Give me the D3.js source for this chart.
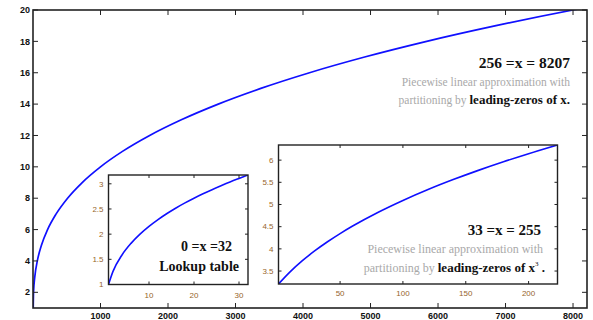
<!DOCTYPE html>
<html>
<head>
<meta charset="utf-8">
<script src="https://cdn.jsdelivr.net/npm/d3@7"></script>
<style>
  html, body { margin: 0; padding: 0; background: #fff; }
  svg { display: block; }
</style>
</head>
<body>
<svg id="chart" width="593" height="320"></svg>
<script>
// Cube-root curve over 0..8207 (main axes)
const mainX = [0, 8, 27, 64, 125, 216, 343, 512, 729, 1000, 1331, 1728, 2197, 2744, 3375, 4096, 4913, 5832, 6859, 8000, 8207];
const mainY = [0, 2, 3, 4, 5, 6, 7, 8, 9, 10, 11, 12, 13, 14, 15, 16, 17, 18, 19, 20, 20.17];
const mainXTicks = [1000, 2000, 3000, 4000, 5000, 6000, 7000, 8000];
const mainYTicks = [2, 4, 6, 8, 10, 12, 14, 16, 18, 20];

// Lookup-table range 0..32
const lookupX = [1, 2, 4, 6, 8, 10, 12, 14, 16, 18, 20, 22, 24, 26, 28, 30, 32];
const lookupY = [1, 1.26, 1.587, 1.817, 2, 2.154, 2.289, 2.41, 2.52, 2.621, 2.714, 2.802, 2.884, 2.962, 3.037, 3.107, 3.175];
const lookupXTicks = [10, 20, 30];
const lookupYTicks = [1, 1.5, 2, 2.5, 3];

// Piecewise range 33..255 (indexed from 1)
const pieceX = [1, 10, 20, 30, 40, 50, 60, 80, 100, 120, 140, 160, 180, 200, 223];
const pieceY = [3.208, 3.476, 3.733, 3.958, 4.16, 4.344, 4.514, 4.82, 5.091, 5.337, 5.561, 5.769, 5.963, 6.145, 6.341];
const pieceXTicks = [50, 100, 150, 200];
const pieceYTicks = [3.5, 4, 4.5, 5, 5.5, 6];

const svg = d3.select("#chart");
const SERIF = "'Liberation Serif', 'Times New Roman', serif";
const SANS = "'Liberation Sans', Arial, sans-serif";

function panel(id, box, xDom, yDom, xs, ys, xTicks, yTicks, opts) {
  const x = d3.scaleLinear().domain(xDom).range([box.l, box.r]);
  const y = d3.scaleLinear().domain(yDom).range([box.b, box.t]);
  const g = svg.append("g");

  g.append("rect")
    .attr("x", box.l).attr("y", box.t)
    .attr("width", box.r - box.l).attr("height", box.b - box.t)
    .attr("fill", "#fff");

  svg.append("clipPath").attr("id", id)
    .append("rect")
    .attr("x", box.l).attr("y", box.t)
    .attr("width", box.r - box.l).attr("height", box.b - box.t);

  const line = d3.line()
    .x((d, i) => x(xs[i]))
    .y((d, i) => y(ys[i]))
    .curve(d3.curveMonotoneX);

  g.append("path")
    .datum(xs)
    .attr("clip-path", `url(#${id})`)
    .attr("d", line)
    .attr("fill", "none")
    .attr("stroke", "#1010ff")
    .attr("stroke-width", opts.lw);

  // inward ticks on all four sides
  const tl = opts.tick;
  const tickStyle = s => s.attr("stroke", "#222").attr("stroke-width", 1);
  xTicks.forEach(v => {
    g.append("line").attr("x1", x(v)).attr("x2", x(v)).attr("y1", box.b).attr("y2", box.b - tl).call(tickStyle);
    g.append("line").attr("x1", x(v)).attr("x2", x(v)).attr("y1", box.t).attr("y2", box.t + tl).call(tickStyle);
  });
  yTicks.forEach(v => {
    g.append("line").attr("x1", box.l).attr("x2", box.l + tl).attr("y1", y(v)).attr("y2", y(v)).call(tickStyle);
    g.append("line").attr("x1", box.r).attr("x2", box.r - tl).attr("y1", y(v)).attr("y2", y(v)).call(tickStyle);
  });

  // tick labels
  g.selectAll(".xl").data(xTicks).enter().append("text")
    .attr("x", d => x(d)).attr("y", box.b + opts.xLabelDy)
    .attr("text-anchor", "middle")
    .attr("font-family", SANS).attr("font-size", opts.fs)
    .attr("font-weight", opts.fw).attr("fill", opts.labelColor)
    .text(d => d);
  g.selectAll(".yl").data(yTicks).enter().append("text")
    .attr("x", box.l - opts.yLabelDx).attr("y", d => y(d))
    .attr("dy", "0.35em")
    .attr("text-anchor", "end")
    .attr("font-family", SANS).attr("font-size", opts.fs)
    .attr("font-weight", opts.fw).attr("fill", opts.labelColor)
    .text(d => d);

  g.append("rect")
    .attr("x", box.l).attr("y", box.t)
    .attr("width", box.r - box.l).attr("height", box.b - box.t)
    .attr("fill", "none").attr("stroke", "#222").attr("stroke-width", opts.frame);
  return g;
}

panel("clipMain", {l: 33, r: 587, t: 10, b: 308}, [0, 8207], [1, 20],
  mainX, mainY, mainXTicks, mainYTicks,
  {lw: 1.7, tick: 5, fs: 9, fw: "bold", labelColor: "#111", xLabelDy: 11, yLabelDx: 3, frame: 1.6});

panel("clipLookup", {l: 108.5, r: 248, t: 175, b: 284.5}, [1, 32], [1, 3.175],
  lookupX, lookupY, lookupXTicks, lookupYTicks,
  {lw: 1.6, tick: 3, fs: 8, fw: "normal", labelColor: "#96652c", xLabelDy: 13, yLabelDx: 5, frame: 1.4});

panel("clipPiece", {l: 278.5, r: 557.5, t: 145, b: 284}, [1, 223], [3.208, 6.341],
  pieceX, pieceY, pieceXTicks, pieceYTicks,
  {lw: 1.6, tick: 3, fs: 8, fw: "normal", labelColor: "#96652c", xLabelDy: 12, yLabelDx: 5, frame: 1.4});

// annotations
function note(x, y, parts, size) {
  const t = svg.append("text")
    .attr("x", x).attr("y", y)
    .attr("text-anchor", "end")
    .attr("font-family", SERIF)
    .attr("font-size", size);
  parts.forEach(p => {
    const s = t.append("tspan").text(p.text)
      .attr("fill", p.color || "#111")
      .attr("font-weight", p.bold ? "bold" : "normal");
    if (p.size) s.attr("font-size", p.size);
  });
  return t;
}

const GREY = "#a9a9a9";

note(570, 68, [{text: "256 =x = 8207", bold: true}], 15.5);
note(570, 86, [{text: "Piecewise linear approximation with", color: GREY}], 11.5);
note(570, 104, [{text: "partitioning by ", color: GREY}, {text: "leading-zeros of x.", bold: true, size: 13}], 11.5);

note(232, 251, [{text: "0 =x =32", bold: true}], 14);
note(239, 271, [{text: "Lookup table", bold: true}], 14);

note(541, 235, [{text: "33 =x = 255", bold: true}], 15);
note(543, 253, [{text: "Piecewise linear approximation with", color: GREY}], 12);
svg.append("text")
  .attr("x", 545).attr("y", 272)
  .attr("text-anchor", "end")
  .attr("font-family", SERIF).attr("font-size", 12)
  .call(t => {
    t.append("tspan").attr("fill", GREY).text("partitioning by ");
    t.append("tspan").attr("fill", "#111").attr("font-weight", "bold").attr("font-size", 13).text("leading-zeros of x");
    t.append("tspan").attr("fill", "#111").attr("font-size", 7).attr("dy", -6).text("3");
    t.append("tspan").attr("fill", "#111").attr("font-weight", "bold").attr("font-size", 13).attr("dy", 6).text(" .");
  });
</script>
</body>
</html>
